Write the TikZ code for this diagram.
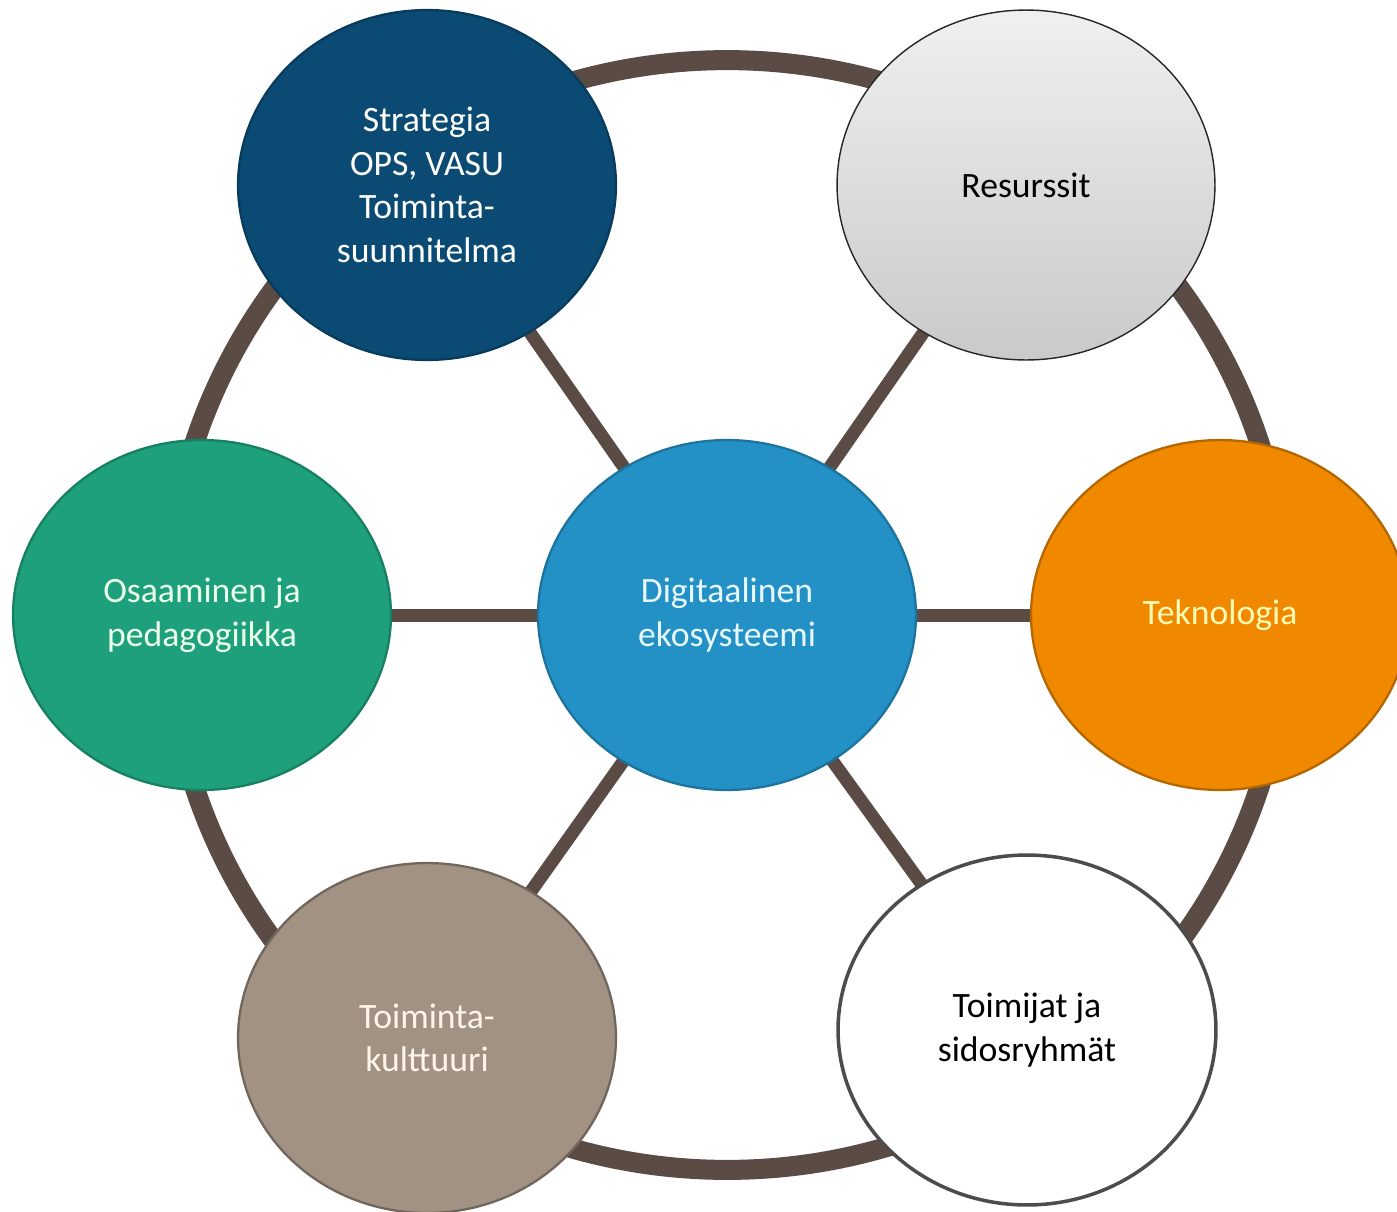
\documentclass[tikz,border=0pt]{standalone}
\usepackage{fontspec}
\setmainfont{Carlito}
\usetikzlibrary{shapes.geometric,backgrounds}
\usepackage{xcolor}
\definecolor{ringbrown}{HTML}{5A4B44}
\definecolor{ekoblue}{HTML}{2391C5}
\definecolor{stratnavy}{HTML}{0B4A73}
\definecolor{osagreen}{HTML}{1DA07B}
\definecolor{tekorange}{HTML}{F08800}
\definecolor{kulttaupe}{HTML}{A29283}

\begin{document}
\begin{tikzpicture}[x=0.02cm, y=-0.02cm,
    topic/.style={ellipse, draw, line width=1.3pt, minimum width=7.56cm, minimum height=7cm,
                  inner sep=0pt, align=center, font=\fontsize{20.3}{24.8}\selectfont},
    spoke/.style={ringbrown, line width=7.4pt},
    ring/.style={ringbrown, line width=11.4pt}]
                \useasboundingbox (0,0) rectangle (1397,1211);

                % Centre node
                \node[topic, fill=ekoblue, draw=ekoblue!80!black, text=cyan!10] (eko) at (727, 615) {Digitaalinen\\ekosysteemi};

                % Outer nodes round the ring
                \node[topic, fill=stratnavy, draw=stratnavy!80!black, text=white] (strat) at (427, 185) {Strategia\\OPS, VASU\\Toiminta-\\suunnitelma};
                \node[topic, top color=gray!12, bottom color=gray!42, draw=black!85, line width=0.8pt, text=black] (resurssit) at (1026, 185) {Resurssit};
                \node[topic, fill=osagreen, draw=osagreen!80!black, text=green!8] (osaaminen) at (202, 615) {Osaaminen ja\\pedagogiikka};
                \node[topic, fill=tekorange, draw=tekorange!75!black, text=yellow!30] (tekno) at (1220, 615) {Teknologia};
                \node[topic, fill=white, draw=black!70, line width=2pt, text=black] (toimijat) at (1027, 1030) {Toimijat ja\\sidosryhmät};
                \node[topic, fill=kulttaupe, draw=kulttaupe!70!black, text=white!92!orange] (kulttuuri) at (427, 1038) {Toiminta-\\kulttuuri};

                % Ring and spokes behind the nodes
                \begin{pgfonlayer}{background}
                \draw[ring] (eko.center) ellipse [x radius=11.2cm, y radius=11.1cm];
                \draw[spoke] (eko.center) -- (strat.center);
                \draw[spoke] (eko.center) -- (resurssit.center);
                \draw[spoke] (eko.center) -- (osaaminen.center);
                \draw[spoke] (eko.center) -- (tekno.center);
                \draw[spoke] (eko.center) -- (kulttuuri.center);
                \draw[spoke] (eko.center) -- (toimijat.center);
                \end{pgfonlayer}
            \end{tikzpicture}
\end{document}
